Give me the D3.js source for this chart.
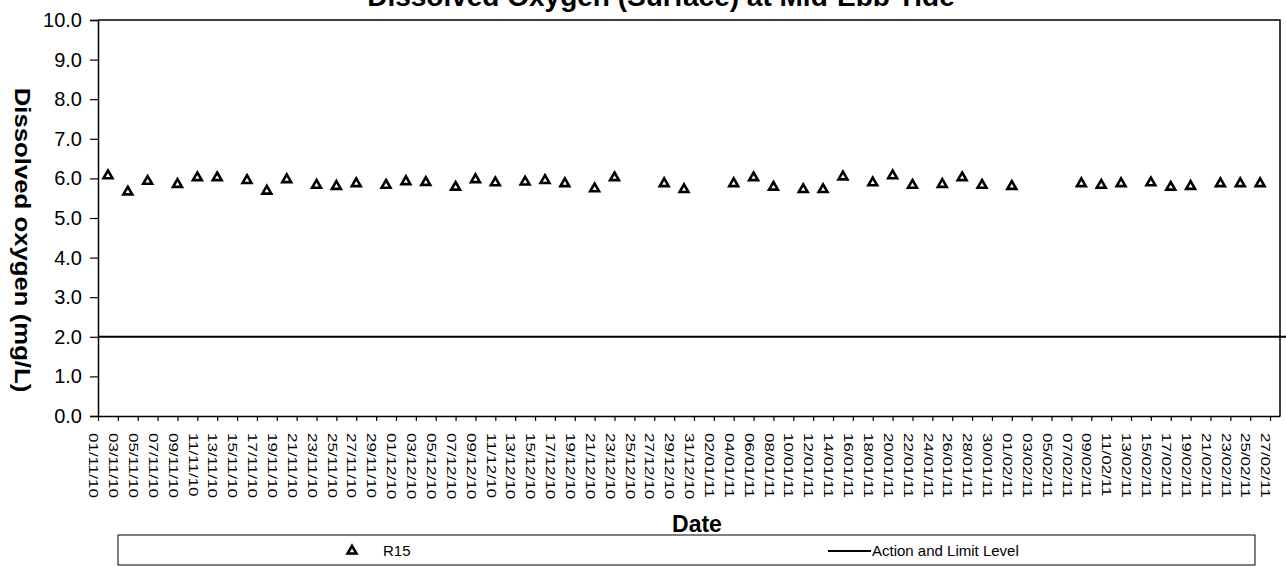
<!DOCTYPE html>
<html>
<head>
<meta charset="utf-8">
<script src="https://cdn.jsdelivr.net/npm/d3@7"></script>
<style>
  html, body { margin: 0; padding: 0; background: #fff; }
  svg { display: block; font-family: "Liberation Sans", Arial, sans-serif; }
</style>
</head>
<body>
<svg id="chart" width="1286" height="567"></svg>
<script>
// ---- data ----
const sampleDates = [
  "02/11/10","04/11/10","06/11/10","09/11/10","11/11/10","13/11/10","16/11/10","18/11/10","20/11/10",
  "23/11/10","25/11/10","27/11/10","30/11/10","02/12/10","04/12/10","07/12/10","09/12/10",
  "11/12/10","14/12/10","16/12/10","18/12/10","21/12/10","23/12/10","28/12/10","30/12/10",
  "04/01/11","06/01/11","08/01/11","11/01/11","13/01/11","15/01/11","18/01/11",
  "20/01/11","22/01/11","25/01/11","27/01/11","29/01/11","01/02/11",
  "08/02/11","10/02/11","12/02/11","15/02/11","17/02/11","19/02/11","22/02/11","24/02/11","26/02/11"
];
const r15Values = [
  6.07, 5.66, 5.93, 5.85, 6.02, 6.02, 5.95, 5.68, 5.97,
  5.83, 5.80, 5.87, 5.83, 5.92, 5.90, 5.78, 5.97,
  5.89, 5.91, 5.95, 5.87, 5.74, 6.02, 5.87, 5.72,
  5.87, 6.02, 5.78, 5.72, 5.72, 6.04, 5.89,
  6.07, 5.83, 5.85, 6.02, 5.83, 5.80,
  5.87, 5.83, 5.87, 5.89, 5.78, 5.80, 5.87, 5.87, 5.87
];
const actionLimitLevel = 2.0;
const yTickValues = [0,1,2,3,4,5,6,7,8,9,10];
const axisStart = "01/11/10";
const axisEnd = "28/02/11";
const tickStepDays = 2;

// ---- layout ----
const parse = d3.timeParse("%d/%m/%y");
const fmt = d3.timeFormat("%d/%m/%y");
const svg = d3.select("#chart");
const L = 98, R = 1280, T = 20, B = 416;

const x = d3.scaleTime().domain([parse(axisStart), parse(axisEnd)]).range([L, R]);
const y = d3.scaleLinear().domain([0, 10]).range([B, T]);
const tickDates = d3.timeDay.range(parse(axisStart), parse(axisEnd), tickStepDays);

// Title
svg.append("text")
  .attr("x", 661).attr("y", 6)
  .attr("text-anchor", "middle")
  .attr("font-weight", "bold").attr("font-size", 28)
  .text("Dissolved Oxygen (Surface) at Mid-Ebb Tide");

// plot frame (top & right)
svg.append("path")
  .attr("d", `M${L},${T}H${R}V${B}`)
  .attr("fill", "none").attr("stroke", "#000").attr("stroke-width", 1.5);

// Y axis
const yAxis = svg.append("g").attr("transform", `translate(${L},0)`)
  .call(d3.axisLeft(y).tickValues(yTickValues).tickFormat(d3.format(".1f")).tickSize(8).tickPadding(8));
yAxis.select(".domain").attr("stroke", "#000").attr("stroke-width", 1.5);
yAxis.selectAll(".tick line").attr("stroke", "#000").attr("stroke-width", 1.2);
yAxis.selectAll(".tick text").attr("font-size", 20).attr("fill", "#000")
  .attr("font-family", "Liberation Sans, Arial, sans-serif");

// X axis
const xAxis = svg.append("g").attr("transform", `translate(0,${B})`)
  .call(d3.axisBottom(x).tickValues(tickDates).tickFormat(fmt).tickSize(5).tickSizeOuter(0));
xAxis.select(".domain").attr("stroke", "#000").attr("stroke-width", 1.5);
xAxis.selectAll(".tick line").attr("stroke", "#000").attr("stroke-width", 1.2);
xAxis.selectAll(".tick text")
  .attr("font-size", 17).attr("fill", "#000")
  .attr("font-family", "Liberation Sans, Arial, sans-serif")
  .attr("text-anchor", "start")
  .attr("x", 0).attr("y", 0).attr("dy", "0.72em")
  .attr("transform", "translate(0,17) rotate(90) scale(1,0.76)");

// Y axis title
svg.append("text")
  .attr("transform", "translate(15,240) rotate(90) scale(1.17,1)")
  .attr("text-anchor", "middle")
  .attr("font-weight", "bold").attr("font-size", 22)
  .text("Dissolved oxygen (mg/L)");

// X axis title
svg.append("text")
  .attr("x", 697).attr("y", 532)
  .attr("text-anchor", "middle")
  .attr("font-weight", "bold").attr("font-size", 23)
  .text("Date");

// Action and limit line
svg.append("line")
  .attr("x1", L).attr("x2", 1286)
  .attr("y1", y(actionLimitLevel)).attr("y2", y(actionLimitLevel))
  .attr("stroke", "#000").attr("stroke-width", 2);

// Data markers
const tri = d3.symbol().type(d3.symbolTriangle).size(34);
svg.append("g").selectAll("path")
  .data(sampleDates.map((d, i) => ({ date: parse(d), v: r15Values[i] })))
  .join("path")
  .attr("d", tri)
  .attr("transform", d => `translate(${x(d.date)},${y(d.v)})`)
  .attr("fill", "#fff").attr("stroke", "#000").attr("stroke-width", 2.6);

// Legend
const lg = svg.append("g");
lg.append("rect").attr("x", 118).attr("y", 535).attr("width", 1137).attr("height", 30)
  .attr("fill", "#fff").attr("stroke", "#000").attr("stroke-width", 1);
lg.append("path").attr("d", tri).attr("transform", "translate(352,551)")
  .attr("fill", "#fff").attr("stroke", "#000").attr("stroke-width", 2.6);
lg.append("text").attr("x", 383).attr("y", 556).attr("font-size", 15).text("R15");
lg.append("line").attr("x1", 828).attr("x2", 871).attr("y1", 551).attr("y2", 551)
  .attr("stroke", "#000").attr("stroke-width", 2);
lg.append("text").attr("x", 872).attr("y", 556).attr("font-size", 15).text("Action and Limit Level");
</script>
</body>
</html>
